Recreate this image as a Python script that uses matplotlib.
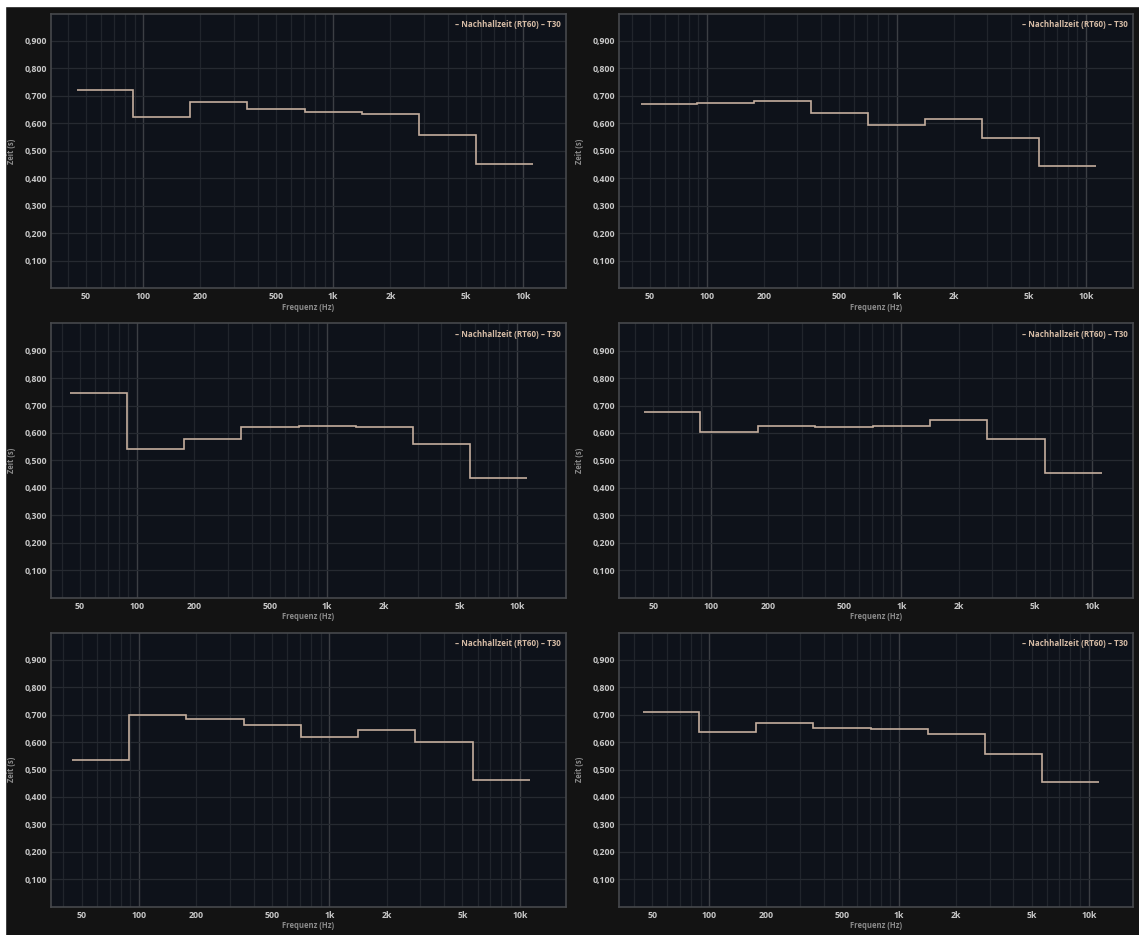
import numpy as np
import matplotlib
matplotlib.use("Agg")
import matplotlib.pyplot as plt
from matplotlib.patches import Rectangle
from matplotlib.ticker import FixedLocator, NullFormatter

# -----------------------
# Data (octave bands, RT60 T30 in seconds)
# -----------------------
band_centers = [63, 125, 250, 500, 1000, 2000, 4000, 8000]

rt_top_left = [0.720, 0.622, 0.677, 0.652, 0.640, 0.634, 0.559, 0.451]
rt_top_right = [0.671, 0.674, 0.683, 0.639, 0.596, 0.617, 0.546, 0.445]
rt_mid_left = [0.745, 0.543, 0.578, 0.622, 0.624, 0.622, 0.559, 0.437]
rt_mid_right = [0.677, 0.605, 0.626, 0.621, 0.627, 0.646, 0.577, 0.455]
rt_bot_left = [0.535, 0.699, 0.684, 0.663, 0.618, 0.645, 0.600, 0.461]
rt_bot_right = [0.709, 0.638, 0.670, 0.652, 0.647, 0.628, 0.558, 0.453]

x_ticks = [50, 100, 200, 500, 1000, 2000, 5000, 10000]
x_tick_labels = ["50", "100", "200", "500", "1k", "2k", "5k", "10k"]
y_ticks = [0.1, 0.2, 0.3, 0.4, 0.5, 0.6, 0.7, 0.8, 0.9]
y_tick_labels = ["0,100", "0,200", "0,300", "0,400", "0,500",
                 "0,600", "0,700", "0,800", "0,900"]

legend_text = "– Nachhallzeit (RT60) – T30"

# -----------------------
# Styling
# -----------------------
FIG_BG = "#131313"
AX_BG = "#0e121a"
LINE = "#c4ae9d"
GRID_MINOR = "#21252c"
GRID_MAJOR = "#3c3f44"
SPINE = "#46484c"
TICK_COL = "#c8c8c8"
LABEL_COL = "#8a8a8a"
FONT = ["Open Sans", "DejaVu Sans"]

W, H = 1139, 935
fig = plt.figure(figsize=(W / 100, H / 100), dpi=100, facecolor=FIG_BG)

# panel rectangles in pixels: (x0, x1) per column, (y_top, y_bottom) per row
col_px = [(51, 566), (619, 1133)]
row_px = [(13.5, 288.3), (323.3, 597.5), (632.5, 906.5)]
xlims = [
    [(32.7, 16800), (34.3, 17700)],
    [(35.2, 18100), (33.1, 16400)],
    [(34.4, 17500), (33.4, 17100)],
]
panels = [
    [rt_top_left, rt_top_right],
    [rt_mid_left, rt_mid_right],
    [rt_bot_left, rt_bot_right],
]

centers = np.array(band_centers, dtype=float)
edges = np.append(centers / np.sqrt(2), centers[-1] * np.sqrt(2))

minor_x = [m * 10 ** e for e in range(1, 5) for m in range(2, 10)]
major_x = [10, 100, 1000, 10000]

for r, (yt, yb) in enumerate(row_px):
    for c, (x0, x1) in enumerate(col_px):
        ax = fig.add_axes([x0 / W, 1 - yb / H, (x1 - x0) / W, (yb - yt) / H])
        ax.set_facecolor(AX_BG)
        ax.set_xscale("log")
        ax.set_xlim(*xlims[r][c])
        ax.set_ylim(0, 1.0)

        # grid
        for f in minor_x:
            ax.axvline(f, color=GRID_MINOR, lw=0.9, zorder=1)
        for f in major_x:
            ax.axvline(f, color=GRID_MAJOR, lw=1.0, zorder=1)
        for yv in y_ticks:
            ax.axhline(yv, color="#262a31", lw=0.9, zorder=1)

        ax.stairs(panels[r][c], edges, color=LINE, lw=1.2, zorder=3,
                  baseline=None)

        ax.xaxis.set_major_locator(FixedLocator(x_ticks))
        ax.xaxis.set_minor_locator(FixedLocator([]))
        ax.xaxis.set_minor_formatter(NullFormatter())
        ax.set_xticks(x_ticks)
        ax.set_xticklabels(x_tick_labels)
        ax.set_yticks(y_ticks)
        ax.set_yticklabels(y_tick_labels)
        ax.tick_params(length=0, colors=TICK_COL, labelsize=6.3, pad=3)
        for lab in ax.get_xticklabels() + ax.get_yticklabels():
            lab.set_fontfamily(FONT)
            lab.set_fontweight("bold")

        ax.set_xlabel("Frequenz (Hz)", fontsize=5.5, color=LABEL_COL,
                      fontfamily=FONT, fontweight="bold", labelpad=1)
        ax.set_ylabel("Zeit (s)", fontsize=5.5, color=LABEL_COL,
                      fontfamily=FONT, fontweight="bold", labelpad=6)

        for s in ax.spines.values():
            s.set_color(SPINE)
            s.set_linewidth(1.2)

        ax.text(0.99, 0.975, legend_text, transform=ax.transAxes,
                ha="right", va="top", fontsize=5.8, color="#d6bca6",
                fontfamily=FONT, fontweight="bold", zorder=5)

# white strips on top and left edge of the screenshot
fig.patches.append(Rectangle((0, 1 - 6 / H), 1, 6 / H, transform=fig.transFigure,
                             color="white", zorder=10))
fig.patches.append(Rectangle((0, 0), 5 / W, 1, transform=fig.transFigure,
                             color="white", zorder=10))

fig.savefig("out.png", dpi=100, facecolor=FIG_BG)
